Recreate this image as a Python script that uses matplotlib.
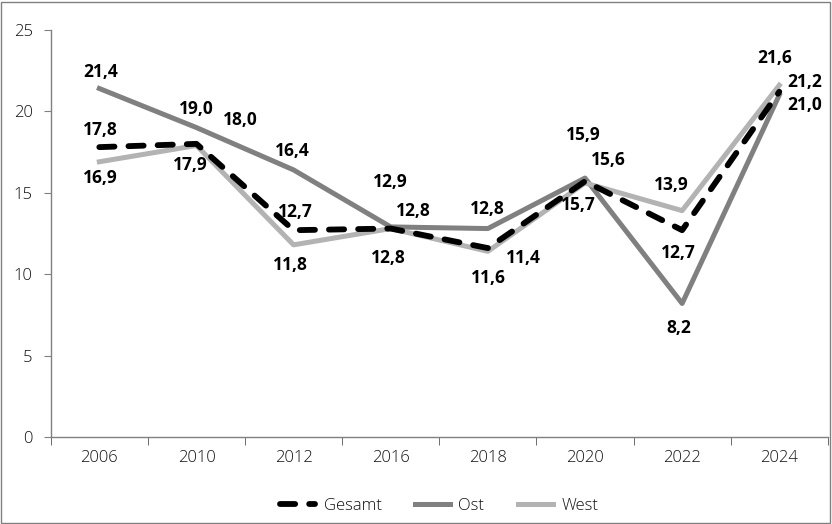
import matplotlib.pyplot as plt
from matplotlib.patches import Rectangle

plt.rcParams['font.family'] = ['Open Sans', 'DejaVu Sans']

years = ['2006', '2010', '2012', '2016', '2018', '2020', '2022', '2024']
gesamt = [17.8, 18.0, 12.7, 12.8, 11.6, 15.7, 12.7, 21.2]
ost = [21.4, 19.0, 16.4, 12.9, 12.8, 15.9, 8.2, 21.0]
west = [16.9, 17.9, 11.8, 12.8, 11.4, 15.6, 13.9, 21.6]

# label offsets in pixels (dx, dy)
ost_off = [(1, 16), (0, 19), (-1, 19), (0, 45), (-1, 20), (-2, 43), (-3, -25), (25, -10)]
ges_off = [(1, 17), (44, 24), (2, 18), (23, 18), (1, -30), (-7, -24), (-4, -23), (25, 10)]
west_off = [(1, -16), (-6, -20), (-3, -20), (-2, -29), (36, -7), (23, 23), (-11, 26), (-5, 27)]

fig = plt.figure(figsize=(8.32, 5.24), dpi=100)
ax = fig.add_axes([0.061, 0.166, 0.934, 0.777])

x = list(range(len(years)))
ax.plot(x, ost, color='#808080', lw=3.6, solid_joinstyle='round', label='Ost', zorder=2)
ax.plot(x, west, color='#b3b3b3', lw=3.6, solid_joinstyle='round', label='West', zorder=2)
ax.plot(x, gesamt, color='black', lw=4.2, dashes=(2.6, 2.4), dash_capstyle='round',
        dash_joinstyle='round', label='Gesamt', zorder=3)

for vals, offs in ((ost, ost_off), (gesamt, ges_off), (west, west_off)):
    for i, v in enumerate(vals):
        ax.annotate(f'{v:.1f}'.replace('.', ','), (i, v), xytext=offs[i],
                    textcoords='offset pixels', ha='center', va='center',
                    fontsize=12.5, fontweight='bold', color='black', zorder=4)

ax.set_xlim(-0.5, len(years) - 0.5)
ax.set_ylim(0, 25)
ax.set_yticks([0, 5, 10, 15, 20, 25])
ax.set_xticks(x)
ax.set_xticklabels(years)
ax.set_xticks([i - 0.5 for i in range(len(years) + 1)], minor=True)
ax.tick_params(axis='x', which='major', length=0, pad=9, labelsize=12, labelcolor='#111111')
ax.tick_params(axis='x', which='minor', length=6, color='#555555', direction='out')
ax.tick_params(axis='y', length=5, color='#808080', labelsize=12, labelcolor='#111111', pad=8)
for lab in ax.get_xticklabels() + ax.get_yticklabels():
    lab.set_fontweight('light')

for s in ('top', 'right'):
    ax.spines[s].set_visible(False)
for s in ('left', 'bottom'):
    ax.spines[s].set_color('#808080')
    ax.spines[s].set_linewidth(1)

handles, labels = ax.get_legend_handles_labels()
order = [2, 0, 1]
leg = ax.legend([handles[i] for i in order], [labels[i] for i in order], loc='center',
                bbox_to_anchor=(0.5, -0.17), ncol=3, frameon=False,
                prop={'size': 12, 'weight': 'light'}, labelcolor='#111111',
                handlelength=2.1, columnspacing=2.0, handletextpad=0.5)

fig.patches.append(Rectangle((0.001, 0.001), 0.997, 0.996, transform=fig.transFigure,
                             fill=False, edgecolor='#808080', lw=1))

fig.savefig('out.png', dpi=100)
